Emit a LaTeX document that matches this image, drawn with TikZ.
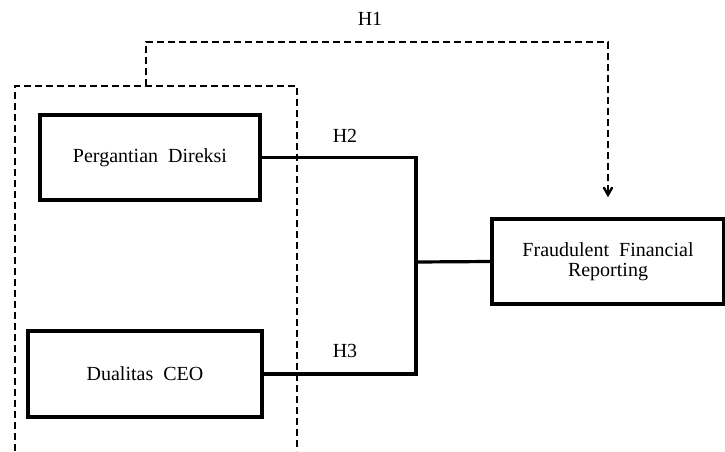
\documentclass[tikz,border=0pt]{standalone}
\usepackage{fontspec}
\setmainfont{Liberation Serif}
\usepackage{tikz}
\usetikzlibrary{arrows}

\begin{document}
\begin{tikzpicture}[x=1pt,y=-1pt,>=angle 60,thick,
    var node/.style={rectangle,draw,line width=3.6pt,align=center,font=\fontsize{20}{21}\selectfont,inner sep=0pt},
    link/.style={line width=3.2pt},
    hyp/.style={dashed,line width=2.4pt,dash pattern=on 7pt off 4pt},
    lbl/.style={font=\fontsize{20}{22}\selectfont}]

  \useasboundingbox (0,0) rectangle (725,451);

  \node[var node,minimum width=220pt,minimum height=85pt] (pd) at (150,157.5) {Pergantian~~Direksi};
  \node[var node,minimum width=234pt,minimum height=86pt] (ceo) at (145,374) {Dualitas~~CEO};
  \node[var node,minimum width=232pt,minimum height=85pt] (ffr) at (608,261.5) {Fraudulent~~Financial\\[-1pt]Reporting};

  % grouping box (open at the bottom)
  \draw[hyp] (15,451) -- (15,86) -- (297,86) -- (297,451);
  \coordinate (grp) at (146,86);
  \coordinate (j) at (416,262);

  \draw[link] (pd.east) -- (pd.east -| j) -- (ceo.east -| j) -- (ceo.east);
  \draw[link] (j) -- (ffr.west);
  \draw[hyp,->] (grp) -- (grp |- 0,42) -| (ffr.north) [shorten >=20pt];

  \node[lbl] (h1) at (370,19) {H1};
  \node[lbl] (h2) at (345,136) {H2};
  \node[lbl] (h3) at (345,351) {H3};

\end{tikzpicture}
\end{document}
